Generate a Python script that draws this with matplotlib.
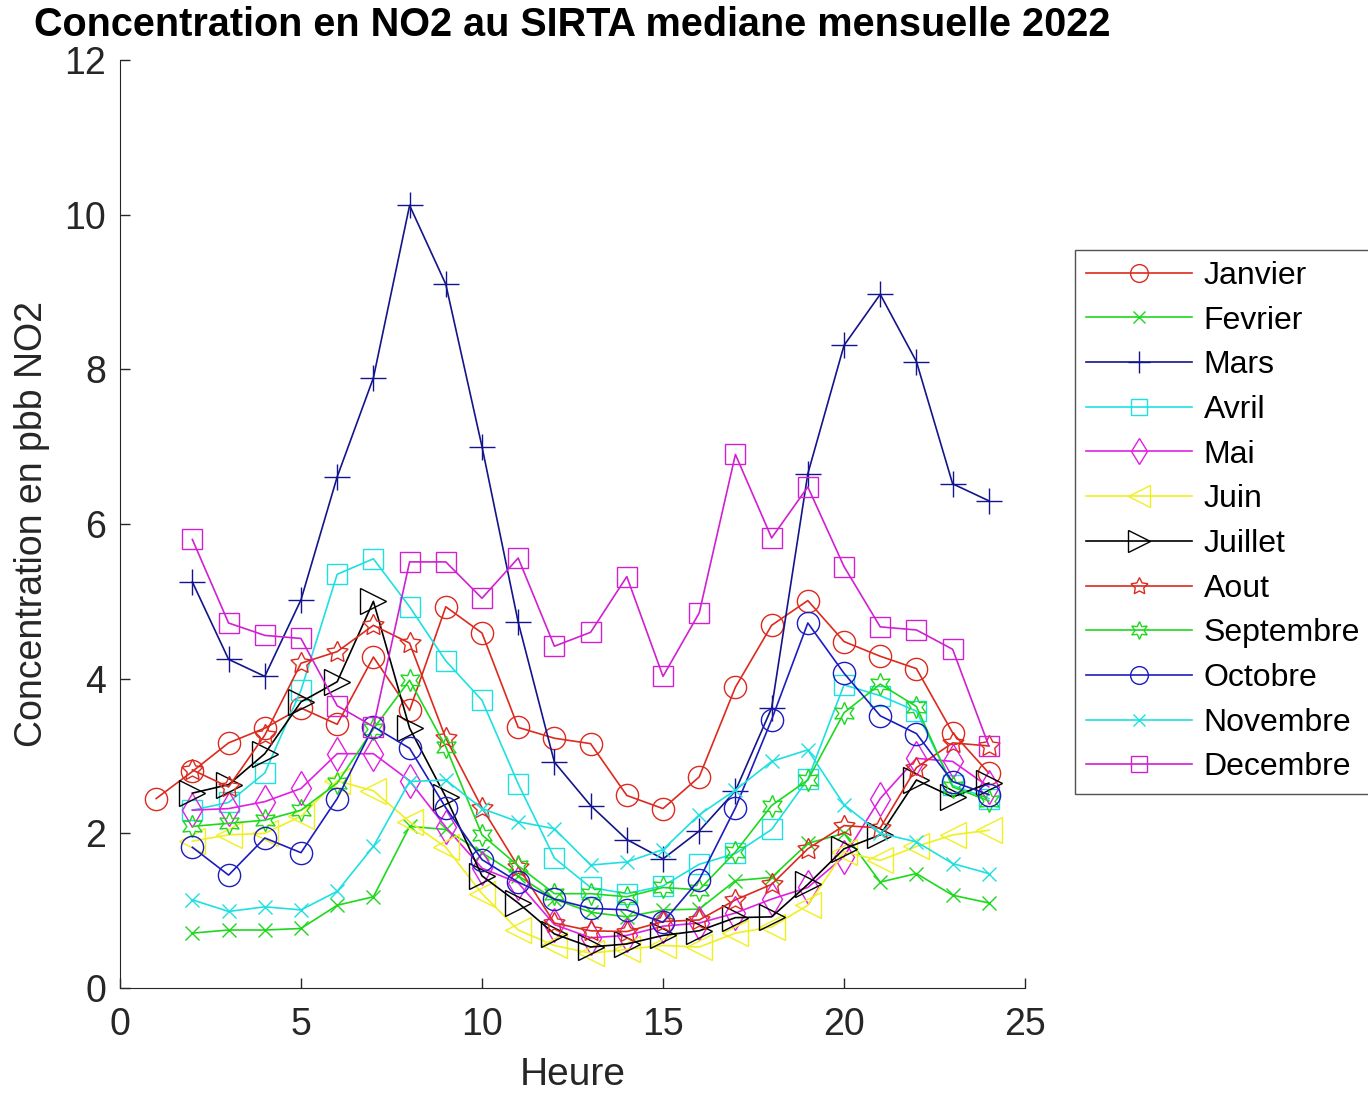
"""Profils horaires de NO2 au SIRTA : médiane mensuelle, année 2022."""

import matplotlib.pyplot as plt

plt.rcParams["font.family"] = ["Liberation Sans", "DejaVu Sans"]

# heures (Janvier commence à 1h, les autres mois à 2h)
hours_jan = list(range(1, 25))
hours = list(range(2, 25))

janvier = [2.45, 2.80, 3.17, 3.36, 3.62, 3.41, 4.28, 3.59, 4.93, 4.59, 3.37, 3.23,
           3.16, 2.49, 2.32, 2.73, 3.89, 4.69, 5.01, 4.48, 4.29, 4.13, 3.30, 2.78]
fevrier = [0.71, 0.75, 0.75, 0.77, 1.07, 1.18, 2.09, 2.05, 1.75, 1.45, 1.15, 0.98,
           0.92, 1.01, 1.02, 1.39, 1.43, 1.87, 2.00, 1.37, 1.48, 1.20, 1.10]
mars = [5.25, 4.25, 4.03, 5.02, 6.61, 7.89, 10.12, 9.10, 7.00, 4.73, 2.92, 2.36,
        1.92, 1.67, 2.03, 2.55, 3.62, 6.65, 8.31, 8.97, 8.10, 6.52, 6.30]
avril = [2.30, 2.40, 2.78, 3.85, 5.35, 5.55, 4.93, 4.23, 3.72, 2.64, 1.68, 1.30,
         1.22, 1.32, 1.60, 1.74, 2.05, 2.70, 3.92, 3.78, 3.58, 2.62, 2.45]
mai = [2.30, 2.32, 2.41, 2.58, 3.03, 3.03, 2.68, 2.08, 1.55, 1.36, 0.82, 0.65,
       0.68, 0.80, 0.84, 0.97, 1.15, 1.30, 1.70, 2.45, 2.97, 2.93, 2.60]
juin = [1.90, 1.98, 2.00, 2.22, 2.68, 2.55, 2.15, 1.82, 1.22, 0.75, 0.55, 0.45,
        0.50, 0.55, 0.53, 0.71, 0.79, 1.07, 1.76, 1.65, 1.83, 1.98, 2.04]
juillet = [2.52, 2.63, 3.03, 3.70, 3.96, 5.00, 3.36, 2.47, 1.45, 1.10, 0.70, 0.53,
           0.57, 0.68, 0.74, 0.91, 0.92, 1.34, 1.80, 1.98, 2.69, 2.47, 2.65]
aout = [2.82, 2.60, 3.27, 4.20, 4.35, 4.69, 4.46, 3.23, 2.33, 1.57, 0.84, 0.74,
        0.73, 0.86, 0.88, 1.14, 1.34, 1.80, 2.10, 2.07, 2.85, 3.17, 3.13]
septembre = [2.09, 2.13, 2.17, 2.30, 2.65, 3.35, 3.98, 3.12, 1.98, 1.58, 1.22, 1.22,
             1.18, 1.30, 1.27, 1.76, 2.36, 2.69, 3.56, 3.93, 3.64, 2.60, 2.42]
octobre = [1.82, 1.46, 1.94, 1.75, 2.45, 3.38, 3.10, 2.33, 1.66, 1.37, 1.15, 1.03,
           1.01, 0.85, 1.40, 2.33, 3.47, 4.72, 4.07, 3.52, 3.29, 2.67, 2.50]
novembre = [1.14, 0.99, 1.05, 1.01, 1.25, 1.83, 2.67, 2.69, 2.32, 2.15, 2.06, 1.59,
            1.63, 1.79, 2.24, 2.56, 2.93, 3.08, 2.37, 2.00, 1.89, 1.61, 1.48]
decembre = [5.80, 4.72, 4.56, 4.52, 3.65, 3.38, 5.51, 5.51, 5.04, 5.56, 4.42, 4.60,
            5.32, 4.03, 4.85, 6.90, 5.82, 6.48, 5.45, 4.67, 4.63, 4.38, 3.13]

labels = ["Janvier", "Fevrier", "Mars", "Avril", "Mai", "Juin", "Juillet",
          "Aout", "Septembre", "Octobre", "Novembre", "Decembre"]
series = [janvier, fevrier, mars, avril, mai, juin, juillet,
          aout, septembre, octobre, novembre, decembre]

# couleurs / symboles façon MATLAB (r, g, b, c, m, y, k ...)
colors = ["#dc2a1e", "#1ed81e", "#14148c", "#1ee0e0", "#e020e0", "#f0f020",
          "#000000", "#dc2a1e", "#1ed81e", "#1c1cc0", "#1ee0e0", "#d020d0"]
markers = ["o", "x", "+", "s", "d", "<", ">", (5, 1, 0), (6, 1, 0), "o", "x", "s"]
sizes = [16, 10, 19, 14, 17, 19, 19, 16, 16, 16, 10, 14]

fig = plt.figure(figsize=(13.68, 10.95), dpi=100)
ax = fig.add_axes([0.0877, 0.0977, 0.6616, 0.8475])

for label, ys, col, mk, ms in zip(labels, series, colors, markers, sizes):
    xs = hours_jan if label == "Janvier" else hours
    ax.plot(xs, ys, color=col, marker=mk, markersize=ms, markerfacecolor="none",
            markeredgecolor=col, markeredgewidth=1.0, linewidth=1.2, label=label)

ax.set_xlim(0, 25)
ax.set_ylim(0, 12)
ax.set_xticks(range(0, 26, 5))
ax.set_yticks(range(0, 13, 2))
ax.tick_params(direction="in", length=7, width=1, labelsize=27, colors="#262626")
ax.tick_params(axis="x", pad=14)
ax.tick_params(axis="y", pad=10)
for side in ("top", "right"):
    ax.spines[side].set_visible(False)
for side in ("left", "bottom"):
    ax.spines[side].set_color("#262626")

ax.set_xlabel("Heure", fontsize=28, color="#262626", labelpad=10)
ax.set_ylabel("Concentration en pbb NO2", fontsize=27, color="#262626", labelpad=10)
ax.set_title("Concentration en NO2 au SIRTA mediane mensuelle 2022",
             fontsize=28.5, fontweight="bold", pad=17)

ax.legend(loc="upper left", bbox_to_anchor=(0.786, 0.772), bbox_transform=fig.transFigure,
          fontsize=23, frameon=True, fancybox=False, edgecolor="#262626",
          handlelength=3.3, handletextpad=0.37, labelspacing=0.46, borderpad=0.35,
          borderaxespad=0, markerscale=0.8)

fig.savefig("out.png", dpi=100)
